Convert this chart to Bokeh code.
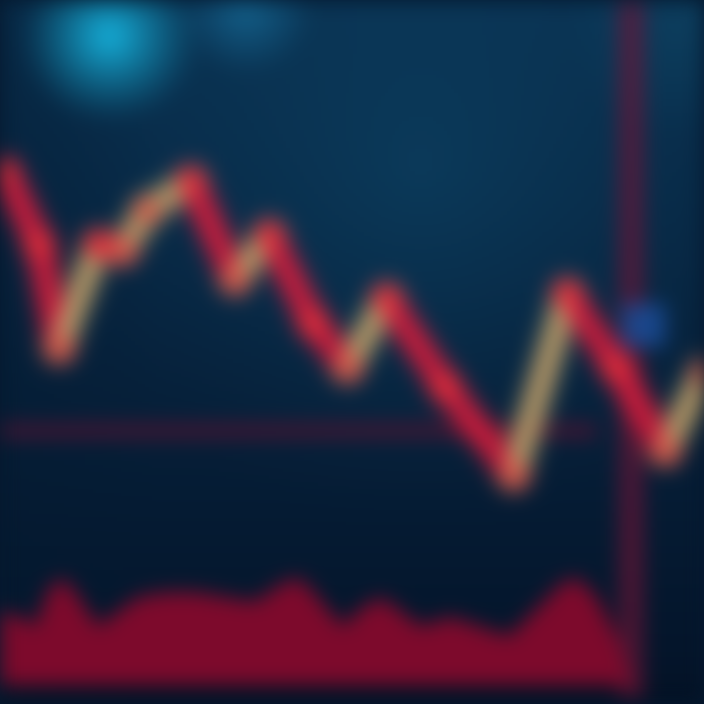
import numpy as np
from bokeh.plotting import figure
from bokeh.models import Range1d, InlineStyleSheet, ColumnDataSource
from bokeh.embed import file_html
from bokeh.resources import INLINE

# ---- data ----
days = [0.5, 4.0, 6.0, 10.0, 12.5, 15.0, 19.5, 24.0, 27.5, 32.0, 35.5, 39.5, 45.5, 52.5, 58.0, 63.0, 68.0, 72.0]
price = [104.5, 97.0, 86.5, 97.0, 96.5, 100.5, 103.5, 93.5, 98.0, 89.0, 84.5, 91.5, 82.5, 73.5, 92.0, 84.5, 76.0, 84.0]

vol_days = [0, 2, 3.5, 5, 6.5, 8, 10, 12, 14, 17, 20, 23, 26, 29, 30.5, 32, 35, 37, 39, 41, 43, 46, 49, 52, 55, 57.5, 59, 61, 63, 64.5]
volume = [7.5, 7, 6, 10, 11, 9, 6, 7.5, 9, 9.5, 9.5, 9, 8.5, 10.5, 11, 9.5, 6, 8, 9, 7.5, 6, 7, 6, 5, 8, 10.5, 11, 9, 5, 0]

ref_level = 78.0           # horizontal reference line (price)
cursor_day = 64.5          # vertical cursor (day)
marker_day = [65.8]
marker_price = [88.8]

X0, X1 = 0, 72
Y0, Y1 = 50, 122

p = figure(width=704, height=704, output_backend="svg", toolbar_location=None,
           x_range=Range1d(X0, X1), y_range=Range1d(Y0, Y1),
           min_border=0, outline_line_color=None)
p.axis.visible = False
p.grid.visible = False
p.background_fill_color = "#06213b"
p.border_fill_color = "#06213b"

# ---- background gradient image ----
N = 200
gx, gy = np.meshgrid(np.linspace(0, 720, N), np.linspace(0, 720, N))  # gy = ref pixel y from top

def hexrgb(h):
    h = h.lstrip("#")
    return np.array([int(h[i:i + 2], 16) for i in (0, 2, 4)], dtype=float)

top = hexrgb("#0a3252")
bot = hexrgb("#041328")
t = (gy / 720.0)[..., None]
img = top * (1 - t) + bot * t
d = np.sqrt((gx - 430) ** 2 + (gy - 170) ** 2)
w = np.clip(1 - d / 380, 0, 1)[..., None] ** 1.5
img = img * (1 - 0.6 * w) + hexrgb("#0d4466") * 0.6 * w
w = np.clip(1 - gx / 160, 0, 1)[..., None]
img = img * (1 - 0.35 * w) + hexrgb("#041a30") * 0.35 * w
d = np.sqrt((gx - 110) ** 2 + ((gy - 35) * 1.05) ** 2)
w = np.clip(1 - d / 95, 0, 1)[..., None] ** 1.2
img = img * (1 - w) + hexrgb("#16b2dc") * w
d = np.sqrt((gx - 250) ** 2 + (gy - 5) ** 2)
w = np.clip(1 - d / 70, 0, 1)[..., None] * 0.6
img = img * (1 - w) + hexrgb("#1a7fb0") * w
d = np.sqrt((gx - 700) ** 2 + (gy - 20) ** 2)
w = np.clip(1 - d / 120, 0, 1)[..., None] * 0.4
img = img * (1 - w) + hexrgb("#115070") * w
w = np.clip((gy - 690) / 30, 0, 1)[..., None]
img = img * (1 - 0.5 * w) + hexrgb("#031020") * 0.5 * w

rgba = np.empty((N, N), dtype=np.uint32)
view = rgba.view(dtype=np.uint8).reshape((N, N, 4))
view[..., 0] = img[..., 0].astype(np.uint8)
view[..., 1] = img[..., 1].astype(np.uint8)
view[..., 2] = img[..., 2].astype(np.uint8)
view[..., 3] = 255
rgba = rgba[::-1]
p.image_rgba(image=[rgba], x=X0, y=Y0, dw=X1 - X0, dh=Y1 - Y0)

# ---- reference lines as bands ----
p.quad(left=X0, right=61, bottom=ref_level - 0.8, top=ref_level + 0.8,
       fill_color="#4a1532", fill_alpha=0.85, line_color=None)
cur_bottoms = list(np.arange(Y0 + 1, Y1, 2.2))
p.quad(left=cursor_day - 1.3, right=cursor_day + 1.3,
       bottom=cur_bottoms, top=[b + 1.6 for b in cur_bottoms],
       fill_color="#6e1536", fill_alpha=0.9, line_color=None)

# ---- volume ----
vbase = [Y0 + 2.0] * len(volume)
vtop = [Y0 + 2.0 + v for v in volume]
p.varea(x=vol_days, y1=vbase, y2=vtop, fill_color="#840a2c", fill_alpha=0.95)

# ---- price line, colored by direction ----
x0 = days[:-1]; x1 = days[1:]
y0 = price[:-1]; y1 = price[1:]
cols = ["#b99b68" if b > a else "#d41c3c" for a, b in zip(y0, y1)]
src = ColumnDataSource(dict(x0=x0, x1=x1, y0=y0, y1=y1, c=cols))
p.segment("x0", "y0", "x1", "y1", source=src, line_color="c", line_width=42, line_alpha=0.25, line_cap="round")
p.segment("x0", "y0", "x1", "y1", source=src, line_color="c", line_width=23, line_alpha=0.9, line_cap="round")
p.scatter(days, price, size=26, color="#e8383a", alpha=0.55)

p.scatter(marker_day, marker_price, marker="square", size=42, color="#1a4a92", alpha=0.9)

p.stylesheets = [InlineStyleSheet(css=":host { background: #05182e; overflow: hidden; } .bk-Canvas { filter: blur(10px); }")]

open("out.html", "w").write(file_html(p, INLINE))
